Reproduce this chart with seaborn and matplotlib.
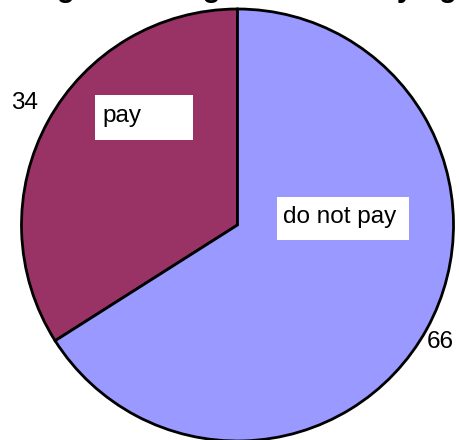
import matplotlib
matplotlib.use("Agg")
import matplotlib.pyplot as plt
from matplotlib.patches import Rectangle
import seaborn as sns

sns.set_theme(style="white")
plt.rcParams["font.family"] = ["Liberation Sans", "DejaVu Sans"]
plt.rcParams["text.color"] = "black"

# Share of respondents
categories = ["pay", "do not pay"]
values = [34, 66]
colors = ["#993366", "#9999FF"]
title = "Percentage of the agencies surveying"

fig = plt.figure(figsize=(4.6, 4.4), dpi=100)
ax = fig.add_axes([0, 0, 1, 1])

ax.pie(values, colors=colors, startangle=90, counterclock=True,
       wedgeprops=dict(edgecolor="black", linewidth=2))

# one data unit = 216 px (pie radius); centre sits at (237.5, 225) px from top-left
r_px = 216.0
cx, cy = 237.5, 225.0
ax.set_xlim(-cx / r_px, (460 - cx) / r_px)
ax.set_ylim(-(440 - cy) / r_px, cy / r_px)
ax.set_aspect("equal")
ax.axis("off")

# value labels outside the pie
ax.text(-0.984, 0.565, str(values[0]), fontsize=17.5, ha="center", va="center")
ax.text(0.9375, -0.542, str(values[1]), fontsize=17.5, ha="center", va="center")

# category labels on white boxes
ax.add_patch(Rectangle((-0.660, 0.394), 0.454, 0.208, facecolor="white",
                       edgecolor="none", zorder=3))
ax.text(-0.627, 0.505, categories[0], fontsize=17.5, ha="left", va="center", zorder=4)
ax.add_patch(Rectangle((0.183, -0.069), 0.611, 0.199, facecolor="white",
                       edgecolor="none", zorder=3))
ax.text(0.211, 0.037, categories[1], fontsize=17.5, ha="left", va="center", zorder=4)

# title sits above the figure edge; only its descenders reach the canvas
fig.text(-66 / 460, 1 + 3 / 440, title, fontsize=21, fontweight="bold",
         ha="left", va="baseline")

fig.savefig("out.png", dpi=100)
